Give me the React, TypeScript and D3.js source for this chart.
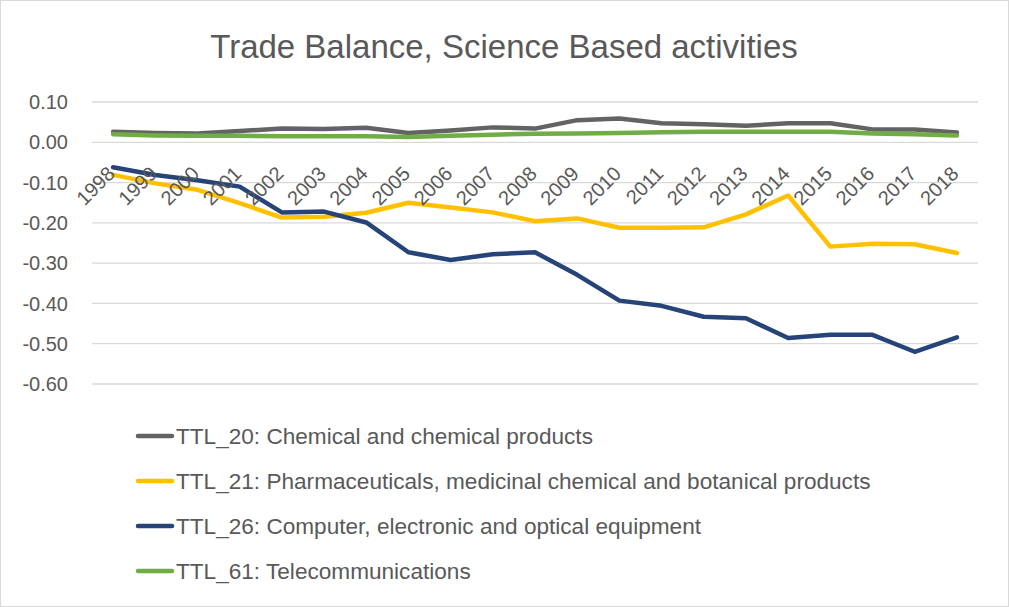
import React from "react";
import * as d3 from "d3";

const width = 1009;
const height = 607;
const margin = { top: 102, right: 31, bottom: 223, left: 92 };

const years = ["1998","1999","2000","2001","2002","2003","2004","2005","2006","2007","2008","2009","2010","2011","2012","2013","2014","2015","2016","2017","2018"];
const yTicks = [0.1, 0, -0.1, -0.2, -0.3, -0.4, -0.5, -0.6];

const ttl20 = [0.026,0.023,0.022,0.028,0.034,0.033,0.036,0.023,0.029,0.037,0.034,0.055,0.059,0.047,0.045,0.041,0.047,0.047,0.032,0.032,0.024];
const ttl21 = [-0.081,-0.102,-0.118,-0.151,-0.187,-0.185,-0.175,-0.150,-0.162,-0.174,-0.196,-0.189,-0.212,-0.212,-0.211,-0.179,-0.132,-0.259,-0.252,-0.253,-0.275];
const ttl26 = [-0.062,-0.081,-0.094,-0.110,-0.174,-0.172,-0.199,-0.273,-0.292,-0.278,-0.273,-0.329,-0.393,-0.406,-0.433,-0.437,-0.486,-0.478,-0.478,-0.520,-0.484];
const ttl61 = [0.020,0.017,0.016,0.016,0.015,0.015,0.015,0.013,0.016,0.019,0.021,0.022,0.023,0.025,0.026,0.026,0.026,0.026,0.022,0.020,0.017];

const series = [
  { name: "TTL_20: Chemical and chemical products", color: "#636363", values: ttl20 },
  { name: "TTL_21: Pharmaceuticals, medicinal chemical and botanical products", color: "#FFC000", values: ttl21 },
  { name: "TTL_26: Computer, electronic and optical equipment", color: "#264478", values: ttl26 },
  { name: "TTL_61: Telecommunications", color: "#70AD47", values: ttl61 },
];

const font = "'Liberation Sans', Arial, sans-serif";
const textColor = "#595959";

export default function App() {
  const x = d3.scaleBand().domain(years).range([margin.left, width - margin.right]).padding(0);
  const y = d3.scaleLinear().domain([-0.6, 0.1]).range([height - margin.bottom, margin.top]);
  const cx = (yr: string) => (x(yr) as number) + x.bandwidth() / 2;
  const line = d3.line<number>().x((_, i) => cx(years[i])).y(d => y(d));

  return (
    <svg width={width} height={height} style={{ position: "absolute", left: 0, top: 0, background: "#fff" }} fontFamily={font}>
      <rect x={0.5} y={0.5} width={width - 1} height={height - 1} fill="#fff" stroke="#d9d9d9" />
      <text x={504} y={58} textAnchor="middle" fontSize={33} fill={textColor}>
        Trade Balance, Science Based activities
      </text>
      {yTicks.map(t => (
        <g key={t}>
          <line x1={margin.left} x2={width - margin.right} y1={y(t)} y2={y(t)} stroke="#d9d9d9" strokeWidth={1.3} />
          <text x={68} y={y(t)} dy="0.36em" textAnchor="end" fontSize={20} fill={textColor}>
            {t.toFixed(2)}
          </text>
        </g>
      ))}
      {series.map(s => (
        <path key={s.name} d={line(s.values) || ""} fill="none" stroke={s.color} strokeWidth={4.5} strokeLinejoin="round" strokeLinecap="round" />
      ))}
      {years.map(yr => (
        <text key={yr} transform={`translate(${cx(yr) + 3},175) rotate(-45)`} textAnchor="end" fontSize={20} fill={textColor}>
          {yr}
        </text>
      ))}
      {series.map((s, i) => {
        const ly = 436 + i * 45;
        return (
          <g key={s.name}>
            <line x1={138} x2={172} y1={ly} y2={ly} stroke={s.color} strokeWidth={4.5} strokeLinecap="round" />
            <text x={176} y={ly} dy="0.36em" fontSize={22.6} fill={textColor}>
              {s.name}
            </text>
          </g>
        );
      })}
    </svg>
  );
}
